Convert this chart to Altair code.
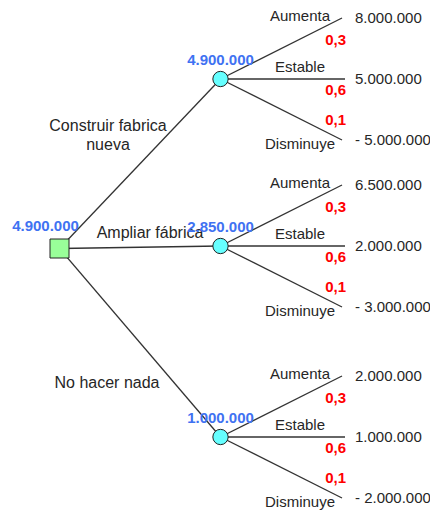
import altair as alt
import pandas as pd

# ---- data ----
root_value = "4.900.000"
decisions = ["Construir fabrica\nnueva", "Ampliar fábrica", "No hacer nada"]
expected = ["4.900.000", "2.850.000", "1.000.000"]
states = ["Aumenta", "Estable", "Disminuye"]
probs = ["0,3", "0,6", "0,1"]
payoffs = [
    ["8.000.000", "5.000.000", "- 5.000.000"],
    ["6.500.000", "2.000.000", "- 3.000.000"],
    ["2.000.000", "1.000.000", "- 2.000.000"],
]

# ---- layout (pixel space of the picture) ----
ROOT = (59.5, 248.5)
CHANCE_X = 220.5
CHANCE_Y = [79, 246, 437]
END_X = [342, 345, 342]
SPREAD = [-61, 0, 61]
STATE_DY = [-63, -12, 65]
PROB_DY = [-39, 11, 41]
VALUE_X = 355
DEC_OFF = [(-32, -37.5), (10, -14), (-33, 40)]

FONT = "Liberation Sans"
DARK = "#262626"
BLUE = "#3f72f2"
RED = "#ff0000"

edges, squares, circles, texts = [], [], [], []
squares.append({"x": ROOT[0], "y": ROOT[1]})
texts.append({"x": ROOT[0] - 14, "y": ROOT[1] - 23, "t": root_value, "kind": "blue"})
for i, d in enumerate(decisions):
    cy = CHANCE_Y[i]
    edges.append({"x": ROOT[0], "y": ROOT[1], "x2": CHANCE_X, "y2": cy})
    circles.append({"x": CHANCE_X, "y": cy})
    mx, my = (ROOT[0] + CHANCE_X) / 2, (ROOT[1] + cy) / 2
    texts.append({"x": mx + DEC_OFF[i][0], "y": my + DEC_OFF[i][1], "t": d, "kind": "dec"})
    texts.append({"x": CHANCE_X, "y": cy - 19, "t": expected[i], "kind": "blue"})
    for j, s in enumerate(states):
        ey = cy + SPREAD[j]
        edges.append({"x": CHANCE_X, "y": cy, "x2": END_X[j], "y2": ey})
        texts.append({"x": 300, "y": cy + STATE_DY[j], "t": s, "kind": "state"})
        texts.append({"x": 346, "y": cy + PROB_DY[j], "t": probs[j], "kind": "prob"})
        texts.append({"x": VALUE_X, "y": ey, "t": payoffs[i][j], "kind": "value"})

E = pd.DataFrame(edges)
S = pd.DataFrame(squares)
C = pd.DataFrame(circles)
T = pd.DataFrame(texts)

xs = alt.Scale(domain=[8, 430], nice=False, zero=False)
ys = alt.Scale(domain=[8, 510], nice=False, zero=False, reverse=True)
X = alt.X("x:Q", scale=xs, axis=None)
Y = alt.Y("y:Q", scale=ys, axis=None)

lines = alt.Chart(E).mark_rule(color="#333333", strokeWidth=1.3).encode(
    x=X, y=Y, x2="x2:Q", y2="y2:Q")
sq = alt.Chart(S).mark_square(size=361, fill="#99ff99", stroke="#222222",
                              strokeWidth=1, opacity=1).encode(x=X, y=Y)
ci = alt.Chart(C).mark_point(shape="circle", size=235, filled=True, fill="#66ffff",
                             stroke="#222222", strokeWidth=1, opacity=1).encode(x=X, y=Y)

def txt(kind, size=16, **kw):
    return alt.Chart(T).transform_filter(alt.datum.kind == kind).mark_text(
        font=FONT, fontSize=size, baseline="middle", **kw).encode(x=X, y=Y, text="t:N")

layers = [
    lines, sq, ci,
    txt("dec", color=DARK, align="center", lineBreak="\n", lineHeight=19),
    txt("blue", size=15, color=BLUE, fontWeight="bold", align="center"),
    txt("state", size=15, color=DARK, align="center"),
    txt("prob", size=15, color=RED, fontWeight="bold", align="right"),
    txt("value", size=15, color=DARK, align="left"),
]

chart = alt.layer(*layers).properties(
    width=422, height=502, padding=0, autosize=alt.AutoSizeParams(type="none")
).configure_view(stroke=None)

chart.save("out.html", embed_options={"renderer": "svg", "actions": False})
